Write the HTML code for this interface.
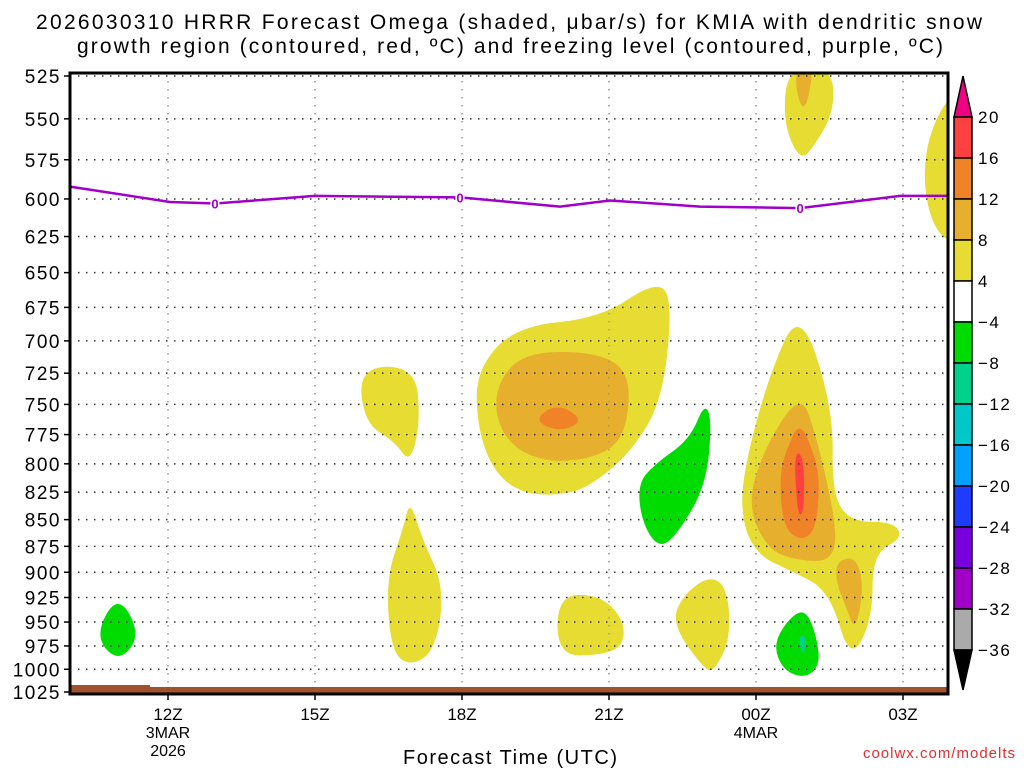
<!DOCTYPE html>
<html><head><meta charset="utf-8"><style>
body{margin:0;background:#fff;}
svg{display:block;font-family:"Liberation Sans",sans-serif;}
</style></head><body>
<svg id="chart" width="1024" height="768" viewBox="0 0 1024 768" xmlns="http://www.w3.org/2000/svg">
<g font-size="21" text-anchor="middle" fill="#000">
<text x="509" y="29" textLength="946" lengthAdjust="spacing">2026030310 HRRR Forecast Omega (shaded, μbar/s) for KMIA with dendritic snow</text>
<text x="510" y="53" textLength="866" lengthAdjust="spacing">growth region (contoured, red, ºC) and freezing level (contoured, purple, ºC)</text>
</g>
<defs><clipPath id="pc"><rect x="70" y="73" width="878" height="621"/></clipPath></defs>
<g id="fills" clip-path="url(#pc)"></g>
<g id="grid"></g>
<rect x="70" y="687" width="878" height="7" fill="#a0522d"/>
<rect x="70" y="685" width="80" height="4" fill="#a0522d"/>
<g id="frz"></g>
<rect x="70" y="73" width="878" height="621" fill="none" stroke="#000" stroke-width="3"/>
<g id="axes"></g>
<g id="cbar"></g>
<text x="510" y="764" font-size="20" text-anchor="middle" textLength="214" lengthAdjust="spacing">Forecast Time (UTC)</text>
<text x="1016" y="758" font-size="15" text-anchor="end" fill="#e03030" letter-spacing="1">coolwx.com/modelts</text>
</svg>
<script>
const pressureTicks=[525,550,575,600,625,650,675,700,725,750,775,800,825,850,875,900,925,950,975,1000,1025];
const timeTicks=[2,5,8,11,14,17];
const timeLabels=["12Z","15Z","18Z","21Z","00Z","03Z"];
const cbarLevels=[20,16,12,8,4,-4,-8,-12,-16,-20,-24,-28,-32,-36];
const cbarColors=["#ff4040","#f08228","#e6af2d","#e6dc32","#ffffff","#00dc00","#00d28c","#00c8c8","#00a0ff","#1e3cff","#7800dc","#a000c8","#aaaaaa"];
// contour polygons as [hour, pressure]
const shapes=[
{c:"#00dc00",p:[[0.98,921],[1.45,964],[0.98,993],[0.5,964]]},
{c:"#e6dc32",p:[[5.9,720],[7.05,720],[7.15,765],[6.94,800],[6.63,781],[6.0,765]]},
{c:"#e6dc32",p:[[6.94,832],[7.18,867],[7.65,916],[7.45,980],[6.94,997],[6.55,980],[6.45,906],[6.8,858]]},
{c:"#e6dc32",p:[[8.3,722],[9.1,689],[10.82,683],[11.94,656],[12.3,668],[12.1,746],[11.45,790],[10.61,820],[10,828],[9.18,826],[8.6,804],[8.3,765]]},
{c:"#e6af2d",p:[[8.7,734],[9.25,709],[10.65,708],[11.4,722],[11.4,764],[11.05,790],[10,800],[9.15,790],[8.7,765]]},
{c:"#f08228",p:[[9.45,763],[9.94,749],[10.5,763],[10,773]]},
{c:"#00dc00",p:[[11.94,800],[12.65,779],[12.96,748],[13.1,765],[12.98,818],[12.45,860],[12.04,878],[11.68,854],[11.58,818]]},
{c:"#e6dc32",p:[[9.95,923],[10.8,922],[11.3,947],[11.3,975],[10.82,985],[9.95,985]]},
{c:"#e6dc32",p:[[13.06,903],[13.42,916],[13.48,967],[13.16,1001],[12.96,1001],[12.28,952],[12.5,923]]},
{c:"#e6dc32",p:[[14.9,674],[15.58,754],[15.55,826],[15.92,852],[16.8,852],[17.0,867],[16.38,882],[16.38,947],[15.92,992],[15.5,918],[14.69,898],[14.05,884],[13.72,854],[13.72,810],[14.25,728]]},
{c:"#e6af2d",p:[[14.9,740],[15.22,774],[15.66,858],[15.55,889],[14.9,889],[14.25,879],[13.82,837],[14.15,788]]},
{c:"#f08228",p:[[14.9,763],[15.22,796],[15.3,818],[15.22,860],[14.9,870],[14.55,856],[14.48,810],[14.62,788]]},
{c:"#ff4040",p:[[14.86,788],[14.98,800],[14.98,842],[14.86,848],[14.78,800]]},
{c:"#e6af2d",p:[[15.64,889],[16.05,885],[16.2,916],[16.02,960],[15.85,936],[15.64,911]]},
{c:"#00dc00",p:[[14.69,945],[15.02,937],[15.25,967],[15.3,996],[15,1010],[14.55,1001],[14.35,973]]},
{c:"#00d28c",p:[[14.92,962],[15.04,968],[14.96,987],[14.88,970]]},
{c:"#e6dc32",p:[[14.65,520],[15.55,520],[15.6,545],[15.2,566],[14.9,576],[14.55,552]]},
{c:"#e6af2d",p:[[14.82,520],[15.16,520],[15.08,537],[14.96,545],[14.82,534]]},
{c:"#e6dc32",p:[[18.1,530],[18.1,632],[17.62,620],[17.4,588],[17.55,556]]}
];
const frzHours=[0,2.04,2.96,5,7.96,10,11.02,12.86,14.9,16.94,17.92];
const frzPres=[592,602,603,598,599,605,601,605,606,598,598];
const frzLabelHours=[2.96,7.96,14.9];
const frzLabelPres=[603,599,606];

const NS="http://www.w3.org/2000/svg";
const X=h=>70+h*49;
const lp0=Math.log(525),lp1=Math.log(1025);
const Y=p=>76+(Math.log(p)-lp0)/(lp1-lp0)*616;
function mk(t,a,parent){const e=document.createElementNS(NS,t);for(const k in a)e.setAttribute(k,a[k]);parent.appendChild(e);return e;}
const fills=document.getElementById('fills');
shapes.forEach((s,i)=>{
 const pts=s.p.map(q=>[X(q[0]),Y(q[1])]);
 let d="";const n=pts.length;
 for(let j=0;j<n;j++){const a=pts[(j-1+n)%n],b=pts[j],c=pts[(j+1)%n];
  const m1=[(a[0]+b[0])/2,(a[1]+b[1])/2],m2=[(b[0]+c[0])/2,(b[1]+c[1])/2];
  if(j===0)d+="M"+m1[0]+","+m1[1];
  d+=" Q"+b[0]+","+b[1]+" "+m2[0]+","+m2[1];}
 const el=mk('path',{d:d+"Z",fill:s.c},fills);
 
 
});
const grid=document.getElementById('grid');
pressureTicks.forEach(p=>{
 const l=mk('line',{x1:70,x2:948,y1:Y(p),y2:Y(p),stroke:"#333","stroke-dasharray":"1.5 6.5","stroke-width":1.5},grid);
 
 
});
timeTicks.forEach(h=>{
 const l=mk('line',{x1:X(h),x2:X(h),y1:73,y2:694,stroke:"#999","stroke-dasharray":"1.5 6.5","stroke-width":1.5},grid);
 
 
});
const frz=document.getElementById('frz');
let fd="";frzHours.forEach((h,i)=>{fd+=(i?" L":"M")+X(h)+","+Y(frzPres[i]);});
const fl=mk('path',{d:fd,fill:"none",stroke:"#a000c8","stroke-width":2.5,"stroke-linejoin":"round"},frz);


frzLabelHours.forEach((h,i)=>{
 const t=mk('text',{x:X(h),y:Y(frzLabelPres[i])+5,"font-size":13,"font-weight":"bold","text-anchor":"middle",fill:"#a000c8",stroke:"#fff","stroke-width":3,"paint-order":"stroke"},frz);
 t.textContent="0";
 
 
});
const axes=document.getElementById('axes');
pressureTicks.forEach(p=>{
 const t=mk('text',{x:61,y:Y(p)+7,"font-size":19,"text-anchor":"end","letter-spacing":"1.5"},axes);
 t.textContent=p;
 
 
 mk('line',{x1:64,x2:70,y1:Y(p),y2:Y(p),stroke:"#000","stroke-width":1.5},axes);
});
timeTicks.forEach((h,i)=>{
 mk('line',{x1:X(h),x2:X(h),y1:694,y2:700,stroke:"#000","stroke-width":1.5},axes);
 const t=mk('text',{x:X(h),y:720,"font-size":17,"text-anchor":"middle"},axes);
 t.textContent=timeLabels[i];
 
 
});
[[X(2),738,"3MAR"],[X(2),756,"2026"],[X(14),738,"4MAR"]].forEach(a=>{
 const t=mk('text',{x:a[0],y:a[1],"font-size":16,"text-anchor":"middle"},axes);
 t.textContent=a[2];
 
 
});
const cb=document.getElementById('cbar');
const cx=954,cw=18,ctop=117,ch=41;
mk('path',{d:`M${cx},${ctop} L${cx+cw/2},76 L${cx+cw},${ctop}Z`,fill:"#f00082",stroke:"#000","stroke-width":1.5},cb);
cbarColors.forEach((c,i)=>{
 const r=mk('rect',{x:cx,y:ctop+i*ch,width:cw,height:ch,fill:c,stroke:"#000","stroke-width":1.5},cb);
 
 
});
const cbot=ctop+cbarColors.length*ch;
mk('path',{d:`M${cx},${cbot} L${cx+cw/2},690 L${cx+cw},${cbot}Z`,fill:"#000",stroke:"#000","stroke-width":1.5},cb);
cbarLevels.forEach((v,i)=>{
 const t=mk('text',{x:978,y:ctop+i*ch+6,"font-size":17,"letter-spacing":"1.5"},cb);
 t.textContent=v<0?"−"+(-v):v;
 
 
});
</script>
</body></html>
